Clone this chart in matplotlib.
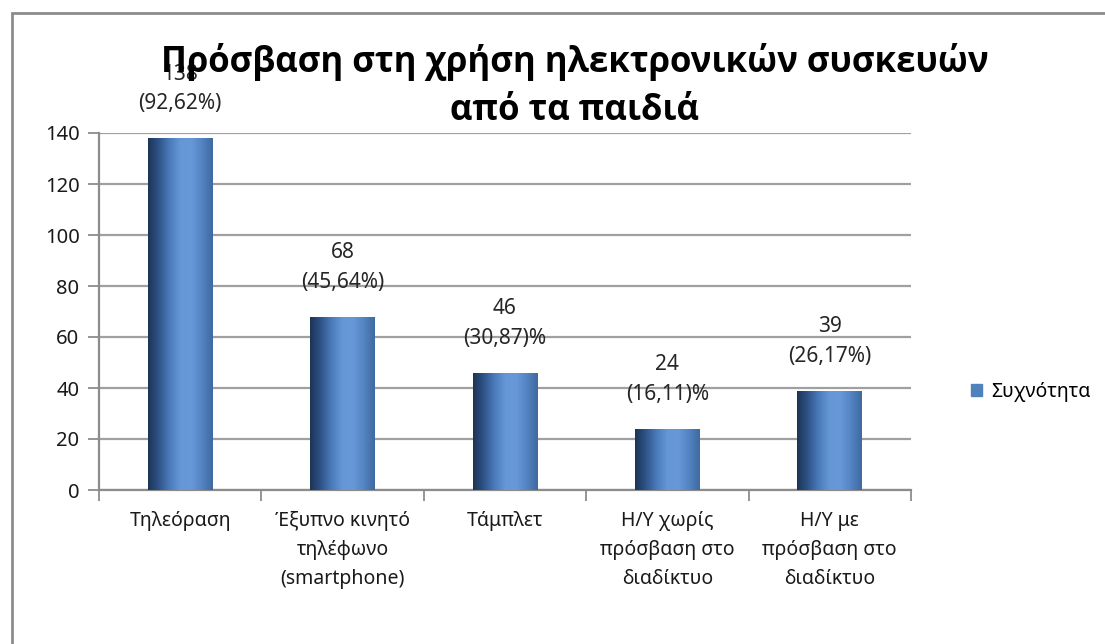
import matplotlib
matplotlib.use('Agg')
import matplotlib.pyplot as plt
import numpy as np
from matplotlib.colors import LinearSegmentedColormap
from matplotlib.patches import Patch, Rectangle

# data
categories = ['Τηλεόραση', 'Έξυπνο κινητό\nτηλέφωνο\n(smartphone)', 'Τάμπλετ',
              'Η/Υ χωρίς\nπρόσβαση στο\nδιαδίκτυο', 'Η/Υ με\nπρόσβαση στο\nδιαδίκτυο']
values = [138, 68, 46, 24, 39]
bar_labels = ['138\n(92,62%)', '68\n(45,64%)', '46\n(30,87)%', '24\n(16,11)%', '39\n(26,17%)']
yticks = [0, 20, 40, 60, 80, 100, 120, 140]
title = 'Πρόσβαση στη χρήση ηλεκτρονικών συσκευών\nαπό τα παιδιά'
series_name = 'Συχνότητα'

plt.rcParams['font.family'] = ['Noto Sans', 'DejaVu Sans']

W, H = 1105, 644
fig = plt.figure(figsize=(W / 100, H / 100), dpi=100)
ax = fig.add_axes([99 / W, 1 - 490 / H, (911 - 99) / W, (490 - 133) / H])

x = np.arange(len(values))
bars = ax.bar(x, values, width=0.4, color='#4f81bd', zorder=3)

# cylinder-like shading inside each bar
cyl = LinearSegmentedColormap.from_list(
    'cyl', ['#1c3456', '#2f5488', '#4b7bbb', '#6596d6', '#6898d8', '#5383c2', '#40699f'])
grad = np.linspace(0, 1, 256).reshape(1, -1)
for b in bars:
    bx, bw, bh = b.get_x(), b.get_width(), b.get_height()
    im = ax.imshow(grad, cmap=cyl, aspect='auto', extent=(bx, bx + bw, 0, bh),
                   zorder=4, interpolation='bilinear')
    im.set_clip_path(b)

for xi, v, lab in zip(x, values, bar_labels):
    ax.annotate(lab, xy=(xi, v), xytext=(0, 17), textcoords='offset points',
                ha='center', va='bottom', fontsize=15, color='#262626',
                linespacing=1.55, zorder=6)

ax.set_xlim(-0.5, len(values) - 0.5)
ax.set_ylim(0, 140)
ax.set_yticks(yticks)
ax.set_xticks(x)
ax.set_xticklabels(categories, fontsize=14, linespacing=1.6, color='#1a1a1a')
ax.set_xticks(np.arange(len(values) + 1) - 0.5, minor=True)
ax.tick_params(axis='x', which='major', length=0, pad=15)
ax.tick_params(axis='x', which='minor', length=8, width=1.3, color='#8c8c8c')
ax.tick_params(axis='y', length=8, width=1.3, color='#8c8c8c', labelsize=14.5,
               labelcolor='#1a1a1a', pad=6)

ax.yaxis.grid(True, color='#a0a0a0', linewidth=1.6, zorder=0)
ax.set_axisbelow(True)
for s in ['top', 'right']:
    ax.spines[s].set_visible(False)
for s in ['left', 'bottom']:
    ax.spines[s].set_color('#8c8c8c')
    ax.spines[s].set_linewidth(1.6)

fig.text(575 / W, 1 - 86 / H, title, ha='center', va='center', fontsize=25,
         fontweight='bold', family=['Open Sans', 'DejaVu Sans'], color='black',
         linespacing=1.45)

fig.legend(handles=[Patch(color='#4f81bd', label=series_name)], loc='center left',
           bbox_to_anchor=(953 / W, 1 - 392 / H), frameon=False, fontsize=14,
           handlelength=0.6, handleheight=0.6, handletextpad=0.45)

# chart area border (only top and left fall inside the image)
fig.add_artist(Rectangle((12 / W, -0.1), 1.2, 1 - 13 / H + 0.1, transform=fig.transFigure,
                         fill=False, edgecolor='#8c8c8c', linewidth=2, clip_on=False))

fig.savefig('out.png', dpi=100, facecolor='white')
